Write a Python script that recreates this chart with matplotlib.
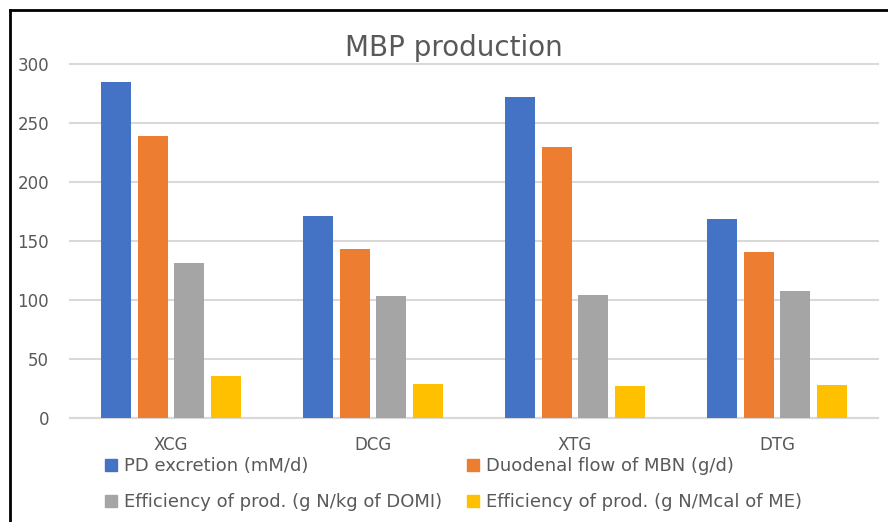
import numpy as np
import matplotlib.pyplot as plt
from matplotlib.lines import Line2D
from matplotlib.patches import Patch

# Data
groups = ['XCG', 'DCG', 'XTG', 'DTG']
pd_excretion = [285, 171, 272, 169]
duodenal_flow = [239, 143, 230, 141]
eff_domi = [131, 103, 104, 108]
eff_me = [36, 29, 27, 28]

series = [pd_excretion, duodenal_flow, eff_domi, eff_me]
names = ['PD excretion (mM/d)', 'Duodenal flow of MBN (g/d)',
         'Efficiency of prod. (g N/kg of DOMI)', 'Efficiency of prod. (g N/Mcal of ME)']
colors = ['#4472C4', '#ED7D31', '#A5A5A5', '#FFC000']

plt.rcParams['font.family'] = ['DejaVu Sans']
text_color = '#595959'

fig = plt.figure(figsize=(8.88, 5.22), dpi=100)
ax = fig.add_axes([70 / 888, 1 - 418 / 522, 808 / 888, 354 / 522])

x = np.arange(len(groups))
width = 0.1485
step = 0.183
for i, (vals, col) in enumerate(zip(series, colors)):
    ax.bar(x + (i - 1.5) * step, vals, width=width, color=col, zorder=3)

ax.set_xlim(-0.5, len(groups) - 0.5)
ax.set_ylim(0, 300)
ax.set_yticks(range(0, 301, 50))
ax.yaxis.grid(True, color='#D9D9D9', linewidth=1.5, zorder=0)
for gl in ax.get_ygridlines():
    gl.set_clip_on(False)   # so the 300 line isn't cut in half
ax.set_axisbelow(True)
for s in ['top', 'right', 'left']:
    ax.spines[s].set_visible(False)
ax.spines['bottom'].set_color('#D9D9D9')
ax.spines['bottom'].set_linewidth(1.5)
ax.set_xticks(x)
ax.set_xticklabels(groups)
ax.tick_params(axis='both', length=0, labelsize=12, labelcolor=text_color)
ax.tick_params(axis='y', pad=15)
ax.tick_params(axis='x', pad=13)

fig.text(454 / 888, 1 - 56 / 522, 'MBP production', ha='center', va='baseline',
         fontsize=20, color=text_color)

# Legend: two rows, column-wise order
handles = [Patch(color=c) for c in colors]
order = [0, 2, 1, 3]
fig.legend([handles[i] for i in order], [names[i] for i in order],
           ncol=2, loc='upper left', bbox_to_anchor=(96 / 888, 1 - 448 / 522),
           frameon=False, fontsize=13, labelcolor=text_color,
           handlelength=0.65, handleheight=0.65, handletextpad=0.4,
           columnspacing=1.4, labelspacing=1.0, borderpad=0)

# black border lines (top and left) like the reference screenshot
fig.add_artist(Line2D([10 / 888, 10 / 888], [0, 1 - 10 / 522], color='black',
                      linewidth=2, transform=fig.transFigure))
fig.add_artist(Line2D([10 / 888, 1], [1 - 10 / 522, 1 - 10 / 522], color='black',
                      linewidth=2, transform=fig.transFigure))

fig.savefig('out.png', dpi=100)
